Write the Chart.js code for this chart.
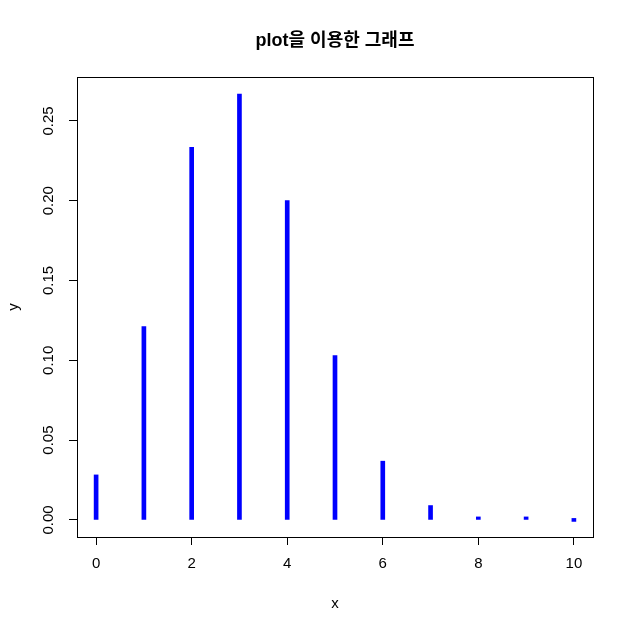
<!DOCTYPE html>
<html>
<head>
<meta charset="utf-8">
<script src="https://cdn.jsdelivr.net/npm/chart.js@4/dist/chart.umd.min.js"></script>
<style>
  body { margin: 0; background: #fff; }
  canvas { display: block; }
</style>
</head>
<body>
<canvas id="plot" width="634" height="633"></canvas>
<script>
// 값은 그림에서 읽은 것 (x = 0..10)
const xValues = [0, 1, 2, 3, 4, 5, 6, 7, 8, 9, 10];
const yValues = [0.0282, 0.1211, 0.2335, 0.2668, 0.2001, 0.1029, 0.0368, 0.0090, 0.0014, 0.0001, 0.0000];
const xTicks = [0, 2, 4, 6, 8, 10];
const yTicks = [0.00, 0.05, 0.10, 0.15, 0.20, 0.25];

const mainTitle = 'plot을 이용한 그래프';
const fontFamily = '"Liberation Sans", Arial, "Noto Sans CJK KR", sans-serif';

// R 스타일 테두리 상자 + 제목
const boxPlugin = {
	id: 'rBox',
	afterDraw(chart) {
		const { ctx, chartArea: a } = chart;
		ctx.save();
		ctx.strokeStyle = '#000';
		ctx.lineWidth = 1;
		ctx.strokeRect(Math.round(a.left) + 0.5, Math.round(a.top) + 0.5,
			Math.round(a.right - a.left), Math.round(a.bottom - a.top));
		ctx.fillStyle = '#000';
		ctx.font = 'bold 18px ' + fontFamily;
		ctx.textAlign = 'center';
		ctx.textBaseline = 'middle';
		ctx.fillText(mainTitle, (a.left + a.right) / 2, 41);
		ctx.restore();
	}
};

const ctx = document.getElementById('plot').getContext('2d');

new Chart(ctx, {
	type: 'bar',
	data: {
		datasets: [{
			data: xValues.map((x, i) => ({ x: x, y: yValues[i] })),
			backgroundColor: '#0000ff',
			borderWidth: 0,
			barThickness: 4,
			minBarLength: 3
		}]
	},
	options: {
		responsive: false,
		devicePixelRatio: 1,
		animation: false,
		layout: { padding: { top: 77, right: 41, left: 0, bottom: 0 } },
		plugins: {
			legend: { display: false },
			tooltip: { enabled: false }
		},
		scales: {
			x: {
				type: 'linear',
				min: -0.4,
				max: 10.4,
				offset: false,
				afterFit: s => { s.height = 96; },
				afterBuildTicks: s => { s.ticks = xTicks.map(v => ({ value: v })); },
				grid: { offset: false, drawOnChartArea: false, drawTicks: true, tickLength: 8, color: '#000' },
				border: { display: false },
				ticks: {
					color: '#000',
					font: { family: fontFamily, size: 15 },
					padding: 10,
					maxRotation: 0,
					callback: v => String(v)
				},
				title: {
					display: true,
					text: 'x',
					color: '#000',
					font: { family: fontFamily, size: 15 },
					padding: { top: 0, bottom: 20 }
				}
			},
			y: {
				type: 'linear',
				min: -0.0107,
				max: 0.2775,
				afterFit: s => { s.width = 77; },
				afterBuildTicks: s => { s.ticks = yTicks.map(v => ({ value: v })); },
				grid: { offset: false, drawOnChartArea: false, drawTicks: true, tickLength: 8, color: '#000' },
				border: { display: false },
				ticks: {
					color: '#000',
					font: { family: fontFamily, size: 15 },
					padding: 6,
					minRotation: 90,
					maxRotation: 90,
					crossAlign: 'center',
					callback: v => v.toFixed(2)
				},
				title: {
					display: true,
					text: 'y',
					color: '#000',
					font: { family: fontFamily, size: 15 },
					padding: { top: 5, bottom: 0 }
				}
			}
		}
	},
	plugins: [boxPlugin]
});
</script>
</body>
</html>
